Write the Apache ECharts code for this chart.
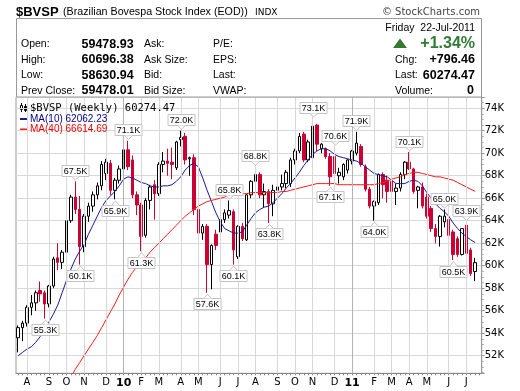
<!DOCTYPE html>
<html><head><meta charset="utf-8">
<script src="https://cdn.jsdelivr.net/npm/echarts@6.0.0/dist/echarts.min.js"></script>
<style>html,body{margin:0;padding:0;background:#fff;}#chart{width:520px;height:391px;}</style>
</head><body><div id="chart"></div>
<script>
// Weekly candles of $BVSP, values in thousands of index points
const firstWeekMonday = '2009-07-20';
const monthLetters = ['J','F','M','A','M','J','J','A','S','O','N','D'];

const opens = [
53.6,54.5,54.9,56.3,56.7,57.8,57.6,56.6,58.2,60.7,
60.3,61.2,64.0,66.1,65.0,61.7,64.4,65.3,66.3,67.1,
68.2,69.1,66.7,67.6,68.6,70.3,69.4,66.3,65.4,62.7,
65.8,67.2,66.4,69.0,69.3,69.2,68.7,71.2,71.5,69.5,
69.6,65.0,62.9,63.5,60.1,62.8,63.0,64.1,64.5,64.8,
60.8,63.5,62.3,66.3,67.5,68.1,66.3,66.6,65.5,66.7,
67.0,67.3,67.3,69.4,70.2,71.7,69.4,69.6,72.5,70.4,
70.4,69.7,69.7,68.0,67.9,68.5,69.3,70.0,70.6,68.8,
66.8,65.3,65.6,68.1,67.6,67.5,66.6,66.9,68.1,69.2,
68.6,66.7,67.0,66.1,65.1,63.3,62.6,63.9,64.1,63.0,
62.4,61.0,63.6,61.4,59.47893];
const highs = [
54.7,55.1,56.5,57.4,57.8,58.6,57.8,58.3,60.8,62.0,
61.4,64.2,66.3,67.5,66.2,64.6,65.6,66.6,67.4,69.3,
69.5,69.4,67.8,68.9,70.4,71.1,69.8,66.6,65.6,66.0,
67.2,67.6,69.2,70.1,70.4,70.5,71.1,72.0,71.8,69.7,
69.9,65.4,63.7,63.7,61.9,63.2,64.3,65.0,65.8,65.0,
63.6,63.8,66.4,67.6,68.8,68.3,67.3,66.8,67.2,67.3,
68.1,68.5,69.6,70.4,71.8,71.9,71.2,73.1,72.6,70.9,
70.5,70.0,70.6,68.7,69.1,69.5,70.3,71.9,70.8,69.0,
67.0,65.8,68.2,68.3,68.0,67.8,67.3,68.3,69.3,70.1,
68.7,67.1,67.4,66.4,65.3,63.7,64.5,65.0,64.4,63.2,
62.6,63.3,63.9,61.6,60.69638];
const lows = [
52.3,53.3,54.6,55.6,56.0,56.8,55.3,56.3,58.0,59.6,
59.7,60.9,63.8,64.6,60.1,61.2,63.9,64.8,65.9,66.7,
67.6,66.3,65.9,67.3,68.3,68.5,66.0,64.5,61.3,62.5,
65.0,64.1,66.2,68.3,68.0,67.7,68.5,70.6,69.0,68.0,
64.5,61.4,62.3,57.6,57.9,61.4,61.7,63.8,64.2,60.1,
60.6,62.2,62.2,66.0,67.2,66.0,65.2,63.8,64.4,66.5,
66.7,66.9,67.0,69.0,70.0,69.2,69.2,69.2,70.2,70.0,
69.5,67.1,67.8,67.3,67.6,68.2,69.0,69.8,68.8,66.6,
65.1,64.0,65.4,66.0,65.6,65.4,65.4,66.6,67.7,68.5,
66.4,65.1,65.1,64.2,63.0,62.0,61.7,63.4,62.6,60.5,
60.8,60.9,60.9,59.1,58.63094];
const closes = [
54.5,54.9,56.3,56.7,57.6,57.5,56.6,58.2,60.6,60.3,
61.2,64.0,66.1,65.0,61.7,64.4,65.3,66.3,67.1,69.0,
69.2,66.7,67.6,68.6,70.3,68.8,66.3,65.4,62.6,65.8,
67.0,66.4,69.0,69.3,69.1,69.0,71.0,71.4,69.4,69.6,
65.0,62.9,63.5,60.1,61.8,61.8,64.1,64.7,64.9,61.4,
63.5,62.4,66.3,67.5,68.1,66.3,66.6,65.5,66.7,67.0,
67.3,68.3,69.4,70.2,71.5,69.4,71.0,72.4,70.8,70.8,
69.7,67.9,68.2,68.3,69.0,69.4,70.2,70.9,69.0,66.8,
65.3,65.7,68.1,67.2,66.6,66.6,66.9,68.1,69.2,68.6,
66.6,67.0,65.3,64.4,63.3,62.6,64.4,64.4,62.7,61.0,
61.0,63.3,61.1,59.3,60.27447];
const ma10 = [
52.0,52.3,52.6,52.8,53.2,53.7,54.3,55.0,55.7,56.5,
57.6,58.7,59.7,60.6,61.3,61.9,62.8,63.6,64.4,65.2,
65.8,66.2,66.6,67.1,67.7,67.9,67.8,67.6,67.4,67.3,
67.1,67.0,67.0,67.1,67.1,67.2,67.5,67.9,68.5,68.9,
69.1,68.8,67.8,66.7,65.7,64.7,63.9,63.3,63.1,62.9,
62.9,63.0,63.6,64.2,64.7,65.0,65.2,65.3,65.6,66.0,
66.4,66.9,67.3,67.8,68.3,68.9,69.4,69.9,70.2,70.4,
70.4,70.2,69.9,69.7,69.6,69.5,69.4,69.3,69.1,68.8,
68.5,68.2,68.1,68.0,67.9,67.6,67.3,67.3,67.3,67.5,
67.6,67.5,67.1,66.5,66.0,65.5,65.1,64.8,64.4,63.8,
63.3,62.9,62.6,62.3,62.06223];
const ma40 = [
null,null,null,null,null,null,null,null,null,null,
null,null,50.1,50.8,51.4,52.0,52.6,53.2,53.8,54.5,
55.2,55.9,56.6,57.4,58.1,58.8,59.4,59.9,60.3,60.7,
61.2,61.6,62.0,62.4,62.8,63.2,63.6,64.0,64.4,64.7,
65.0,65.3,65.5,65.7,65.8,65.9,66.0,66.1,66.2,66.3,
66.3,66.4,66.4,66.5,66.5,66.5,66.5,66.5,66.5,66.5,
66.6,66.6,66.7,66.8,66.9,67.0,67.1,67.2,67.3,67.3,
67.3,67.3,67.3,67.2,67.2,67.2,67.2,67.2,67.2,67.2,
67.2,67.2,67.3,67.4,67.5,67.7,67.8,67.9,68.1,68.2,
68.3,68.3,68.2,68.1,68.0,67.9,67.9,67.8,67.7,67.6,
67.4,67.2,67.0,66.8,66.61469];
// annotated swing highs / lows (week indices)
const highMarks = [13,25,37,48,54,67,72,77,89,97,102];
const lowMarks = [6,14,22,28,43,49,57,71,81,99];

const N = opens.length;
const categories = [];
const t0 = Date.parse(firstWeekMonday + 'T00:00:00Z');
for (let i = 0; i < N + 1; i++) categories.push(new Date(t0 + i * 7 * 864e5).toISOString().slice(0, 10));
const monthStart = categories.map((c, i) => i > 0 && c.slice(5, 7) !== categories[i - 1].slice(5, 7));

const RED = '#cc0033', BLUE = '#1a1a99', MARED = '#ff1a1a', GREEN = '#337a33';
const SANS = '"Liberation Sans", Arial, sans-serif';
const VSANS = '"DejaVu Sans", Verdana, sans-serif';
const MONO = '"DejaVu Sans Mono", monospace';

function T(x, y, text, font, extra) {
  return { type: 'text', silent: true, z: 100,
    style: Object.assign({ x: x, y: y, text: text, font: font, fill: '#000', align: 'left', verticalAlign: 'middle' }, extra || {}) };
}

const monthLines = [];
categories.forEach((c, i) => {
  if (monthStart[i]) monthLines.push({ xAxis: c, lineStyle: { color: c.slice(5, 7) === '01' ? '#b4b4b4' : '#d8d8d8', width: 1, type: 'solid' } });
});

const marks = highMarks.map(i => [i, highs[i], 1]).concat(lowMarks.map(i => [i, lows[i], -1]));

const chart = echarts.init(document.getElementById('chart'), null, { renderer: 'canvas' });
chart.setOption({
  animation: false,
  backgroundColor: '#fff',
  grid: { left: 16, right: 38.3, top: 97.5, bottom: 17.7, containLabel: false, outerBoundsMode: 'none',
          show: true, borderColor: '#999', borderWidth: 1, backgroundColor: 'transparent' },
  xAxis: {
    type: 'category', data: categories, boundaryGap: true,
    axisLine: { show: true, lineStyle: { color: '#888' } },
    axisTick: { show: true, interval: 0, alignWithLabel: true, length: 2, lineStyle: { color: '#888' } },
    splitLine: { show: false },
    axisLabel: {
      interval: (i) => monthStart[i], margin: 4, color: '#000', fontFamily: VSANS, fontSize: 10,
      formatter: (v) => { const m = +v.slice(5, 7) - 1; return m === 0 ? '{y|' + v.slice(2, 4) + '}' : monthLetters[m]; },
      rich: { y: { fontWeight: 'bold', fontFamily: VSANS, fontSize: 11, color: '#000' } }
    }
  },
  yAxis: {
    type: 'value', position: 'right', min: 50.44, max: 74.95, minInterval: 2, maxInterval: 2, splitNumber: 12,
    axisLine: { show: true, lineStyle: { color: '#999' } },
    axisTick: { show: true, length: 3, lineStyle: { color: '#999' } },
    minorTick: { show: true, splitNumber: 4, length: 2, lineStyle: { color: '#aaa' } },
    splitLine: { show: true, lineStyle: { color: '#d8d8d8', width: 1 } },
    axisLabel: { formatter: (v) => Math.round(v) + 'K', showMinLabel: false, showMaxLabel: false,
      margin: 3, color: '#000', fontFamily: VSANS, fontSize: 10 }
  },
  series: [
    { type: 'line', name: 'grid', data: [], z: 0, silent: true,
      markLine: { silent: true, symbol: ['none', 'none'], label: { show: false }, animation: false, data: monthLines } },
    { type: 'candlestick', name: '$BVSP', z: 3, barWidth: 3,
      data: opens.map((o, i) => [o, closes[i], lows[i], highs[i]]),
      itemStyle: { color: '#fff', color0: RED, borderColor: '#000', borderColor0: RED, borderWidth: 1 } },
    { type: 'line', name: 'MA(10)', data: ma10, z: 4, symbol: 'none', silent: true,
      lineStyle: { color: BLUE, width: 1 } },
    { type: 'line', name: 'MA(40)', data: ma40, z: 4, symbol: 'none', silent: true, connectNulls: false,
      lineStyle: { color: MARED, width: 1 } },
    { type: 'custom', name: 'marks', z: 6, silent: true, data: marks, encode: { x: 0, y: 1 },
      renderItem: (params, api) => {
        const v = api.value(1), dir = api.value(2);
        const p = api.coord([api.value(0), v]);
        const x = Math.round(p[0]) + 0.5;
        const txt = v.toFixed(1) + 'K';
        const w = 27, h = 11, ph = 4;
        let tipY, baseY, boxY;
        if (dir > 0) { tipY = p[1] - 1.5; baseY = tipY - ph; boxY = baseY - h; }
        else { tipY = p[1] + 1.5; baseY = tipY + ph; boxY = baseY; }
        boxY = Math.round(boxY) + 0.5; baseY = dir > 0 ? boxY + h : boxY;
        return { type: 'group', children: [
          { type: 'rect', shape: { x: x - w / 2, y: boxY, width: w, height: h }, style: { fill: '#fff', stroke: '#c4c4c4', lineWidth: 1 } },
          { type: 'polygon', shape: { points: [[x - 4, baseY], [x, tipY], [x + 4, baseY]] }, style: { fill: '#fff', stroke: null } },
          { type: 'polyline', shape: { points: [[x - 4, baseY], [x, tipY], [x + 4, baseY]] }, style: { fill: null, stroke: '#c4c4c4', lineWidth: 1 } },
          { type: 'text', style: { text: txt, x: x, y: boxY + h / 2 + 0.5, align: 'center', verticalAlign: 'middle', font: '9px ' + SANS, fill: '#000' } }
        ] };
      } }
  ],
  graphic: [
    { type: 'rect', z: 90, silent: true, shape: { x: 16.5, y: 18.5, width: 465, height: 78.5 }, style: { fill: '#fff', stroke: '#999', lineWidth: 1 } },
    T(16, 12.5, '$BVSP', 'bold 13px ' + SANS),
    T(63, 12.5, '(Brazilian Bovespa Stock Index (EOD))', '10.7px ' + SANS),
    T(255, 12.5, 'INDX', '9px ' + VSANS),
    T(480, 12.5, '© StockCharts.com', '10px ' + VSANS, { align: 'right', fill: '#444' }),
    T(475, 28.5, 'Friday  22-Jul-2011', '10.5px ' + SANS, { align: 'right' }),
    T(21, 44.5, 'Open:', '10.5px ' + SANS), T(81.5, 44.5, '59478.93', 'bold 12.5px ' + SANS),
    T(144, 44.5, 'Ask:', '10.5px ' + SANS), T(213, 44.5, 'P/E:', '10.5px ' + SANS),
    T(21, 60, 'High:', '10.5px ' + SANS), T(81.5, 60, '60696.38', 'bold 12.5px ' + SANS),
    T(144, 60, 'Ask Size:', '10.5px ' + SANS), T(213, 60, 'EPS:', '10.5px ' + SANS),
    T(21, 75.5, 'Low:', '10.5px ' + SANS), T(81.5, 75.5, '58630.94', 'bold 12.5px ' + SANS),
    T(144, 75.5, 'Bid:', '10.5px ' + SANS), T(213, 75.5, 'Last:', '10.5px ' + SANS),
    T(21, 91, 'Prev Close:', '10.5px ' + SANS), T(81.5, 91, '59478.01', 'bold 12.5px ' + SANS),
    T(144, 91, 'Bid Size:', '10.5px ' + SANS), T(213, 91, 'VWAP:', '10.5px ' + SANS),
    { type: 'polygon', z: 100, silent: true, shape: { points: [[393, 48], [400, 38.5], [407, 48]] }, style: { fill: GREEN } },
    T(475, 44, '+1.34%', 'bold 16px ' + SANS, { align: 'right', fill: GREEN }),
    T(395, 60, 'Chg:', '10.5px ' + SANS), T(475, 60, '+796.46', 'bold 12.5px ' + SANS, { align: 'right' }),
    T(395, 75.5, 'Last:', '10.5px ' + SANS), T(475, 75.5, (closes[N - 1] * 1000).toFixed(2), 'bold 12.5px ' + SANS, { align: 'right' }),
    T(395, 91, 'Volume:', '10.5px ' + SANS), T(474, 91, '0', 'bold 12.5px ' + SANS, { align: 'right' }),
    // legend
    { type: 'group', z: 100, silent: true, children: [
      { type: 'line', shape: { x1: 21.5, y1: 103, x2: 21.5, y2: 112 }, style: { stroke: '#000', lineWidth: 1 } },
      { type: 'rect', shape: { x: 20.5, y: 105.5, width: 2, height: 4 }, style: { fill: '#fff', stroke: '#000', lineWidth: 1 } },
      { type: 'line', shape: { x1: 25.5, y1: 104, x2: 25.5, y2: 112 }, style: { stroke: '#000', lineWidth: 1 } },
      { type: 'rect', shape: { x: 24.5, y: 106.5, width: 2, height: 4 }, style: { fill: '#000', stroke: '#000', lineWidth: 1 } },
      { type: 'line', shape: { x1: 20, y1: 119, x2: 28, y2: 119 }, style: { stroke: BLUE, lineWidth: 2 } },
      { type: 'line', shape: { x1: 20, y1: 129.5, x2: 28, y2: 129.5 }, style: { stroke: MARED, lineWidth: 2 } }
    ] },
    T(30, 108, '$BVSP (Weekly) ' + (closes[N - 1] * 1000).toFixed(2), '10.5px ' + MONO),
    T(30, 119, 'MA(10) ' + (ma10[N - 1] * 1000).toFixed(2), '10px ' + SANS, { fill: '#00008b' }),
    T(30, 129.5, 'MA(40) ' + (ma40[N - 1] * 1000).toFixed(2), '10px ' + SANS, { fill: '#ee0000' })
  ]
});
</script></body></html>
